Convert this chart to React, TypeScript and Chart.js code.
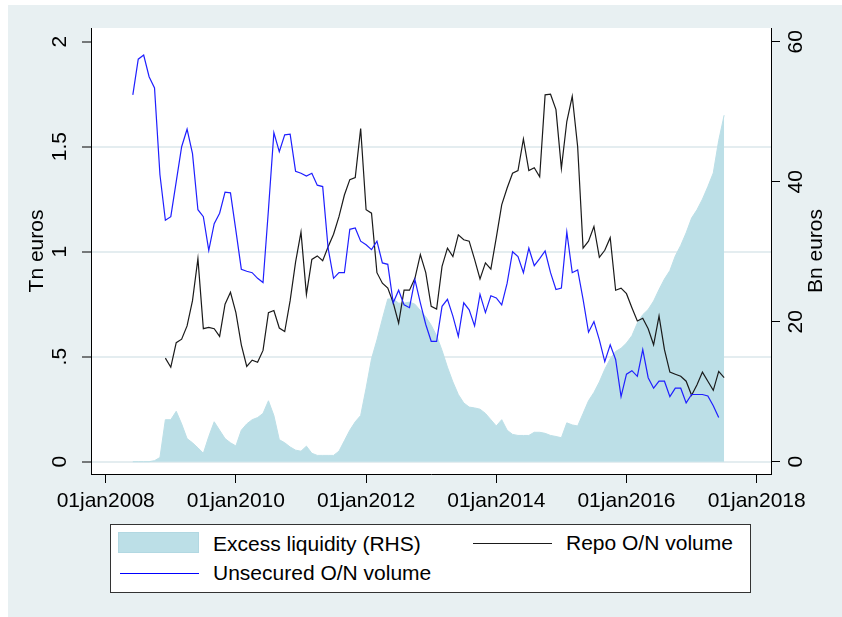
import React, { useEffect, useRef } from "react";
import { Chart, registerables } from "chart.js";

Chart.register(...registerables);

// x positions: months since 01jan2008
const EXCESS_START = 5; // Jun 2008
const excessLiquidity = [
  0, 0, 0, 0, 0.005, 0.02, 0.2, 0.2, 0.24, 0.18,
  0.11, 0.09, 0.066, 0.04, 0.12, 0.19, 0.15, 0.11, 0.09, 0.075,
  0.15, 0.18, 0.2, 0.21, 0.23, 0.29, 0.22, 0.105, 0.09, 0.07,
  0.055, 0.05, 0.074, 0.04, 0.03, 0.03, 0.03, 0.03, 0.05, 0.1,
  0.15, 0.19, 0.22, 0.35, 0.49, 0.58, 0.68, 0.775, 0.775, 0.755,
  0.755, 0.76, 0.75, 0.72, 0.69, 0.65, 0.6, 0.53, 0.45, 0.38,
  0.32, 0.28, 0.26, 0.256, 0.25, 0.23, 0.2, 0.17, 0.2, 0.15,
  0.13, 0.125, 0.125, 0.125, 0.14, 0.14, 0.135, 0.125, 0.12, 0.114,
  0.185, 0.175, 0.17, 0.23, 0.29, 0.33, 0.38, 0.44, 0.49, 0.525,
  0.54, 0.565, 0.6, 0.66, 0.7, 0.725, 0.765, 0.82, 0.87, 0.91,
  0.98, 1.03, 1.09, 1.16, 1.2, 1.25, 1.31, 1.375, 1.53, 1.65,
];

const UNSECURED_START = 5; // Jun 2008
const unsecuredVolume = [
  52.4, 57.5, 58.1, 55, 53.4, 41, 34.5, 35, 40, 45,
  47.5, 44, 36, 35, 30.2, 34, 35.5, 38.5, 38.4, 33,
  27.5, 27.2, 27, 26.2, 25.6, 36, 47, 44.3, 46.7, 46.8,
  41.5, 41.2, 40.8, 41.2, 39.5, 39.3, 30.5, 26.2, 27, 27,
  33.2, 33.4, 31.5, 31, 30.3, 31.5, 28.4, 28.2, 22.7, 24.5,
  22.4, 22, 26, 22.7, 19.6, 17.2, 17.2, 22.2, 23.2, 20.8,
  17.9, 22.7, 21.7, 19.4, 23.9, 21.3, 23.7, 23.4, 22.4, 25.5,
  30, 29.3, 27, 30.5, 28, 29, 30.1, 27, 24.6, 24.8,
  32.8, 27, 27.4, 23.2, 18.5, 20, 17.4, 14.3, 16.7, 14.6,
  9.3, 12.5, 13, 12.2, 16, 12, 10.5, 11.5, 11.5, 9.3,
  10.5, 10.5, 8.4, 9.6, 9.6, 9.6, 9.4, 8, 6.3,
];

const REPO_START = 11; // Dec 2008
const repoVolume = [
  14.8, 13.5, 17, 17.5, 19.4, 23, 29, 19, 19.2, 19,
  17.9, 22.5, 24.2, 21.3, 16.7, 13.6, 14.5, 14.2, 15.9, 21.3,
  21.6, 19.1, 18.6, 23, 28.5, 32.8, 23.9, 28.9, 29.4, 28.7,
  30.7, 32.5, 35, 38.1, 40.3, 40.6, 47.6, 36, 35.5, 27,
  25.5, 24.8, 22.7, 19.8, 24.5, 24.5, 26.2, 29.6, 27, 22.2,
  21.8, 27.9, 30.5, 29.3, 32.4, 31.7, 31.5, 28.9, 26.1, 28.4,
  27.5, 32, 36.7, 39.1, 41.2, 41.6, 46.1, 41.6, 42, 40.7,
  52.4, 52.5, 50.3, 41.9, 48.6, 52.2, 45, 30.5, 31.5, 33.6,
  29.2, 30.2, 32, 24.5, 24.8, 24, 22, 20.1, 20.5, 19,
  16.7, 20.8, 16, 12.8, 12.5, 12.2, 11.5, 9.5, 11, 12.8,
  11.5, 10.2, 12.9, 12,
];

const xTickMonths = [0, 24, 48, 72, 96, 120];
const xTickLabels = ["01jan2008", "01jan2010", "01jan2012", "01jan2014", "01jan2016", "01jan2018"];
const leftTicks = [0, 0.5, 1, 1.5, 2];
const leftTickLabels = ["0", ".5", "1", "1.5", "2"];
const rightTicks = [0, 20, 40, 60];
const rightTickLabels = ["0", "20", "40", "60"];

const FONT_FAMILY = "'Liberation Sans', Arial, sans-serif";
const FONT_SIZE = 21;
const BG = "#e8f0f2";
const AREA = "#bcdfe7";
const GRID = "#e4edf0";

const toPoints = (start: number, values: number[]) =>
  values.map((v, i) => ({ x: start + i, y: v }));

const bgPlugin = {
  id: "stataBg",
  beforeDraw(chart: any) {
    const { ctx, width, height, chartArea } = chart;
    ctx.save();
    ctx.fillStyle = "#ffffff";
    ctx.fillRect(0, 0, width, height);
    ctx.fillStyle = BG;
    ctx.fillRect(8, 5, width - 8, height - 5);
    ctx.fillStyle = "#ffffff";
    ctx.fillRect(chartArea.left, chartArea.top, chartArea.right - chartArea.left, chartArea.bottom - chartArea.top);
    ctx.restore();
  },
  afterDraw(chart: any) {
    const { ctx, chartArea } = chart;
    const s = chart.scales.y1;
    ctx.save();
    ctx.translate(s.left + 45, (chartArea.top + chartArea.bottom) / 2);
    ctx.rotate(-Math.PI / 2);
    ctx.font = `${FONT_SIZE}px ${FONT_FAMILY}`;
    ctx.fillStyle = "#000";
    ctx.textAlign = "center";
    ctx.textBaseline = "middle";
    ctx.fillText("Bn euros", 0, 0);
    ctx.restore();
  },
};

export default function App() {
  const ref = useRef<HTMLCanvasElement | null>(null);

  useEffect(() => {
    if (!ref.current) return;
    const font = { family: FONT_FAMILY, size: FONT_SIZE };
    const chart = new Chart(ref.current, {
      type: "line",
      data: {
        datasets: [
          {
            label: "Unsecured O/N volume",
            data: toPoints(UNSECURED_START, unsecuredVolume),
            yAxisID: "y1",
            borderColor: "#1f1fff",
            borderWidth: 1.2,
            pointRadius: 0,
            fill: false,
            order: 0,
          },
          {
            label: "Repo O/N volume",
            data: toPoints(REPO_START, repoVolume),
            yAxisID: "y1",
            borderColor: "#1a1a1a",
            borderWidth: 1.2,
            pointRadius: 0,
            fill: false,
            order: 1,
          },
          {
            label: "Excess liquidity (RHS)",
            data: toPoints(EXCESS_START, excessLiquidity),
            yAxisID: "y",
            borderColor: AREA,
            backgroundColor: AREA,
            borderWidth: 1,
            pointRadius: 0,
            fill: "origin",
            order: 2,
          },
        ],
      } as any,
      options: {
        animation: false,
        responsive: false,
        maintainAspectRatio: false,
        layout: { padding: { top: 28, left: 0, right: 0, bottom: 0 } },
        plugins: { legend: { display: false }, tooltip: { enabled: false } },
        scales: {
          x: {
            type: "linear",
            position: "bottom",
            min: -2.71,
            max: 122.64,
            afterBuildTicks: (s: any) => {
              s.ticks = xTickMonths.map((v) => ({ value: v }));
            },
            afterFit: (s: any) => {
              s.height = 143;
            },
            grid: { drawOnChartArea: false, drawTicks: true, tickLength: 9, tickColor: "#000", tickWidth: 1 },
            border: { display: true, color: "#000", width: 1 },
            ticks: {
              font,
              color: "#000",
              padding: 6,
              autoSkip: false,
              minRotation: 0,
              maxRotation: 0,
              callback: (_v: any, i: number) => xTickLabels[i],
            },
          },
          y: {
            type: "linear",
            position: "left",
            min: -0.0586,
            max: 2.0652,
            afterBuildTicks: (s: any) => {
              s.ticks = leftTicks.map((v) => ({ value: v }));
            },
            afterFit: (s: any) => {
              s.width = 91;
            },
            grid: {
              drawOnChartArea: true,
              color: (c: any) => (c.tick && c.tick.value === 2 ? "rgba(0,0,0,0)" : GRID),
              lineWidth: 2,
              drawTicks: true,
              tickLength: 9,
              tickColor: "#000",
              tickWidth: 1,
            },
            border: { display: true, color: "#000", width: 1 },
            ticks: {
              font,
              color: "#000",
              padding: 7,
              minRotation: 90,
              maxRotation: 90,
              crossAlign: "center",
              callback: (_v: any, i: number) => leftTickLabels[i],
            },
            title: {
              display: true,
              text: "Tn euros",
              font,
              color: "#000",
              padding: { top: 25, bottom: 0 },
            },
          },
          y1: {
            type: "linear",
            position: "right",
            min: -1.757,
            max: 61.957,
            afterBuildTicks: (s: any) => {
              s.ticks = rightTicks.map((v) => ({ value: v }));
            },
            afterFit: (s: any) => {
              s.width = 71;
            },
            grid: { drawOnChartArea: false, drawTicks: true, tickLength: 9, tickColor: "#000", tickWidth: 1 },
            border: { display: true, color: "#000", width: 1 },
            ticks: {
              font,
              color: "#000",
              padding: 5,
              minRotation: 90,
              maxRotation: 90,
              crossAlign: "center",
              callback: (_v: any, i: number) => rightTickLabels[i],
            },
          },
        },
      } as any,
      plugins: [bgPlugin],
    });
    return () => chart.destroy();
  }, []);

  const textStyle: React.CSSProperties = {
    position: "absolute",
    fontFamily: FONT_FAMILY,
    fontSize: FONT_SIZE,
    lineHeight: "24px",
    color: "#000",
    whiteSpace: "nowrap",
  };

  return (
    <div style={{ position: "fixed", left: 0, top: 0, width: 842, height: 617, overflow: "hidden" }}>
      <canvas ref={ref} width={842} height={617} style={{ position: "absolute", left: 0, top: 0, width: 842, height: 617 }} />
      <div
        style={{
          position: "absolute",
          left: 110,
          top: 524,
          width: 641,
          height: 69,
          boxSizing: "border-box",
          border: "1px solid #333",
          background: "#fff",
        }}
      />
      <div style={{ position: "absolute", left: 118, top: 532, width: 81, height: 21, boxSizing: "border-box", background: AREA, border: "1px solid #b2d8e2" }} />
      <div style={{ ...textStyle, left: 213, top: 532 }}>Excess liquidity (RHS)</div>
      <div style={{ position: "absolute", left: 473, top: 543, width: 79, height: 1, background: "#1a1a1a" }} />
      <div style={{ ...textStyle, left: 566, top: 531 }}>Repo O/N volume</div>
      <div style={{ position: "absolute", left: 120, top: 573, width: 79, height: 1, background: "#0000ff" }} />
      <div style={{ ...textStyle, left: 213, top: 561 }}>Unsecured O/N volume</div>
    </div>
  );
}
